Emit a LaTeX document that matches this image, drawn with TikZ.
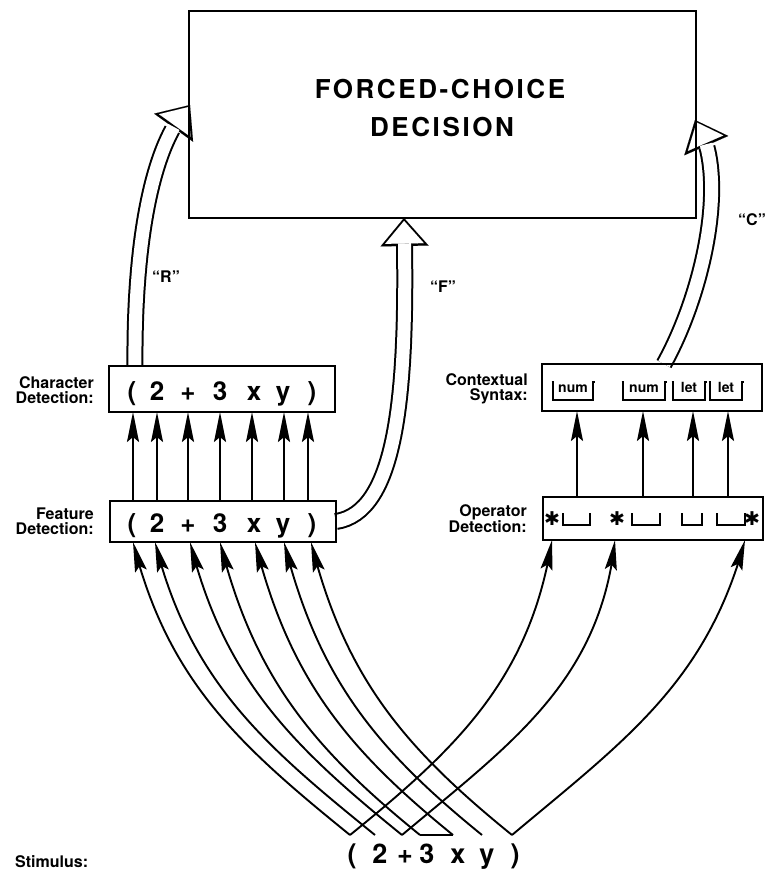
\documentclass[tikz,border=0pt]{standalone}
\usepackage{fontspec}
\setmainfont{TeX Gyre Heros}
\newfontfamily\symfont{DejaVu Sans}
\usetikzlibrary{arrows.meta,bending,calc}
\pgfdeclarelayer{bg}
\pgfsetlayers{bg,main}
\newcommand\hollowarrow[1]{%
  \draw[hollowout] #1;
  \draw[hollowin] #1;}
\begin{document}
\begin{tikzpicture}[x=1pt,y=-1pt,
  boxst/.style={draw, line width=2.4pt, inner sep=0pt, outer sep=0pt, rectangle},
  lab/.style={font=\bfseries\fontsize{16}{15.5}\selectfont, align=right, inner sep=0pt},
  bigc/.style={font=\bfseries\fontsize{26}{26}\selectfont, inner sep=0pt, anchor=base},
  stimc/.style={font=\bfseries\fontsize{27}{27}\selectfont, inner sep=0pt, anchor=base},
  dect/.style={font=\bfseries\fontsize{26}{30}\selectfont\addfontfeatures{LetterSpace=10}, inner sep=0pt, anchor=base},
  tagtext/.style={font=\bfseries\fontsize{14}{14}\selectfont, inner sep=0pt, anchor=base},
  qlabel/.style={font=\bfseries\fontsize{16}{16}\selectfont, inner sep=0pt},
  ast/.style={font=\symfont\bfseries\fontsize{19}{19}\selectfont, inner sep=0pt},
  headst/.style={-{Stealth[length=30pt,width=12pt,inset=5pt]}},
  thinarrow/.style={line width=1.9pt, headst},
  brk/.style={line width=2.1pt},
  hollowout/.style={line width=17pt, -{Triangle[length=28pt,width=48pt,line width=0.01pt]}},
  hollowin/.style={white, line width=13pt, shorten >=3pt, -{Triangle[length=22.5pt,width=38.6pt,line width=0.01pt]}},
]
\useasboundingbox (0,0) rectangle (767,871);

% boxes
\node[boxst, minimum width=507pt, minimum height=207pt] (dec) at (442.5,114.5) {};
\node[boxst, minimum width=226pt, minimum height=46pt] (cbox) at (222,389) {};
\node[boxst, minimum width=226pt, minimum height=41pt] (fbox) at (223,521.5) {};
\node[boxst, minimum width=220pt, minimum height=47pt] (sbox) at (652,387.5) {};
\node[boxst, minimum width=220pt, minimum height=43pt] (obox) at (653,518.5) {};

% decision text
\node[dect] (dt1) at (440,98) {FORCED-CHOICE};
\node[dect] (dt2) at (442,136) {DECISION};

% labels
\node[lab, anchor=east] (labc) at (94,390) {Character\\Detection:};
\node[lab, anchor=east] (labf) at (94,521) {Feature\\Detection:};
\node[lab, anchor=east] (labs) at (528,389) {Contextual\\Syntax:};
\node[lab, anchor=east] (labo) at (527,518.5) {Operator\\Detection:};
\node[lab, anchor=west] (labst) at (15,862) {Stimulus:};

\node[qlabel] (qr) at (166,277) {“R”};
\node[qlabel] (qf) at (443,287) {“F”};
\node[qlabel] (qc) at (752,220) {“C”};

% characters in boxes
\foreach \x/\c [count=\i] in {132/{(},157/2,188/+,220/3,254/x,283/y,312/{)}} {
  \node[bigc] (cc\i) at (\x,400) {\c};
  \node[bigc] (fc\i) at (\x,532) {\c};
}
% stimulus
\foreach \x/\c [count=\i] in {352/{(},380/2,405/+,427/3,458/x,487/y,515/{)}} {
  \node[stimc] (st\i) at (\x,863) {\c};
}

% contextual syntax brackets
\foreach \a/\b/\t [count=\i] in {553/593/num,623/665/num,673/705/let,710/742/let} {
  \draw[brk] (\a-1.5,382) -- (\a,382) -- (\a,400) -- (\b,400) -- (\b,382) -- (\b+1.5,382);
  \node[tagtext] (tg\i) at ({(\a+\b)/2},392) {\t};
}
% operator brackets and asterisks
\foreach \a/\b in {563/590,632/660,682/702,717/745}
  \draw[brk] (\a,513) -- (\a,525) -- (\b,525) -- (\b,513);
\node[ast] (as1) at (552,519) {✱};
\node[ast] (as2) at (617,519) {✱};
\node[ast] (as3) at (752,519) {✱};

% vertical arrows feature -> character
\foreach \x [count=\i] in {133,157,188,220,252,284,308} {
  \coordinate (vx\i) at (\x,0);
  \draw[thinarrow] (fbox.north -| vx\i) -- (cbox.south -| vx\i);
}
% vertical arrows operator -> contextual
\foreach \x [count=\i] in {577,643,693,728} {
  \coordinate (kx\i) at (\x,0);
  \draw[thinarrow] (obox.north -| kx\i) -- (sbox.south -| kx\i);
}

% stimulus points
\foreach \x [count=\i] in {350,375,402,420,453,482,512}
  \coordinate (s\i) at (\x,835);

% stimulus -> feature detection
\foreach \x [count=\i] in {133,155,190,220,255,284,311} {
  \coordinate (fx\i) at (\x,0);
  \draw[thinarrow] (s\i) to[out=141,in=-76] (fbox.south -| fx\i);
}
% stimulus -> operator detection
\coordinate (ox1) at (552,0);
\coordinate (ox2) at (615,0);
\coordinate (ox3) at (745,0);
\draw[thinarrow] (s1) to[out=39,in=-99] (obox.south -| ox1);
\draw[thinarrow] (s3) to[out=40,in=-96] (obox.south -| ox2);
\draw[thinarrow] (s7) to[out=40,in=-105] (obox.south -| ox3);
\draw[line width=1.5pt] (s4) -- (s5);

% hollow arrows
\begin{pgfonlayer}{bg}
\hollowarrow{($(cbox.north west)+(26,0)$) .. controls (134,250) and (150,145) .. ($(dec.north west)+(1,94)$)}
\hollowarrow{(fbox.east) .. controls (398,512) and (408,390) .. ($(dec.south west)+(215,0)$)}
\hollowarrow{($(sbox.north west)+(122,0)$) .. controls (705,290) and (730,170) .. ($(dec.north east)+(-1,109)$)}
\end{pgfonlayer}
\end{tikzpicture}
\end{document}
